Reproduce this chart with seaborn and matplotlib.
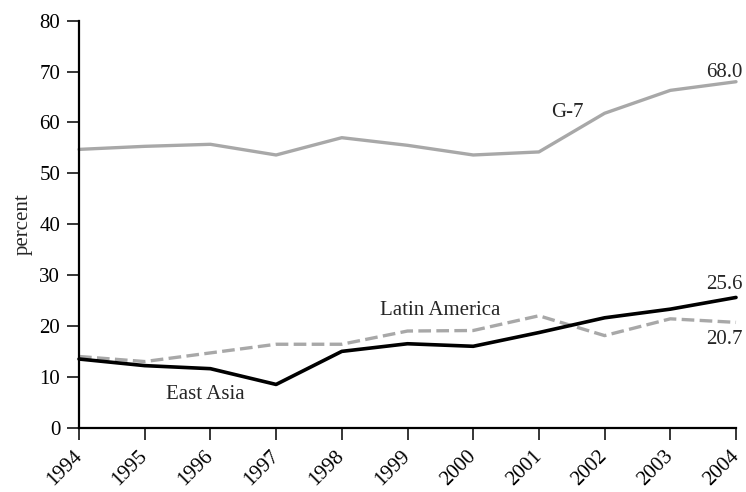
import matplotlib
matplotlib.use('Agg')
import matplotlib.pyplot as plt
import matplotlib.transforms as mtransforms
import seaborn as sns
import pandas as pd

# values (percent)
years = [1994, 1995, 1996, 1997, 1998, 1999, 2000, 2001, 2002, 2003, 2004]
g7 = [54.7, 55.3, 55.7, 53.6, 57.0, 55.5, 53.6, 54.2, 61.8, 66.3, 68.0]
east_asia = [13.5, 12.2, 11.6, 8.5, 15.0, 16.5, 16.0, 18.7, 21.6, 23.3, 25.6]
latin_america = [14.0, 13.0, 14.7, 16.4, 16.4, 19.0, 19.1, 22.0, 18.1, 21.4, 20.7]
y_ticks = [0, 10, 20, 30, 40, 50, 60, 70, 80]

sns.set_style('ticks')
plt.rcParams['font.family'] = ['Liberation Serif', 'DejaVu Serif']
plt.rcParams['font.size'] = 15

df = pd.DataFrame({
    'year': years * 3,
    'value': g7 + east_asia + latin_america,
    'group': ['G-7'] * len(years) + ['East Asia'] * len(years)
             + ['Latin America'] * len(years),
})

fig = plt.figure(figsize=(7.46, 4.92), dpi=100)
ax = fig.add_axes([0.1059, 0.1307, 0.8807, 0.8273])

sns.lineplot(data=df[df.group == 'G-7'], x='year', y='value', ax=ax,
             color='#a8a8a8', linewidth=2.4, legend=False)
sns.lineplot(data=df[df.group == 'Latin America'], x='year', y='value', ax=ax,
             color='#a8a8a8', linewidth=2.4, legend=False)
ax.lines[-1].set_dashes([3.8, 1.6])
sns.lineplot(data=df[df.group == 'East Asia'], x='year', y='value', ax=ax,
             color='black', linewidth=2.6, legend=False)

ax.set_xlim(years[0], years[-1])
ax.set_ylim(0, 80)
ax.set_yticks(y_ticks)
ax.set_xticks(years)
ax.set_xticklabels([str(y) for y in years], rotation=45, ha='right',
                   va='center', rotation_mode='anchor')
shift = mtransforms.ScaledTranslation(4 / 100, 0, fig.dpi_scale_trans)
for lbl in ax.get_xticklabels():
    lbl.set_transform(lbl.get_transform() + shift)
ax.set_xlabel('')
ax.set_ylabel('percent')
ax.yaxis.set_label_coords(-0.07, 0.5)
ax.tick_params(axis='both', direction='out', length=8.5, width=1.1,
               colors='black', labelsize=15)
ax.tick_params(axis='y', pad=5)
ax.tick_params(axis='x', pad=10)
for side in ['top', 'right']:
    ax.spines[side].set_visible(False)
for side in ['left', 'bottom']:
    ax.spines[side].set_linewidth(1.6)
    ax.spines[side].set_color('black')

# series labels
ax.text(2001.43, 62.0, 'G-7', ha='center', va='center')
ax.text(1999.5, 23.0, 'Latin America', ha='center', va='center')
ax.text(1995.92, 6.5, 'East Asia', ha='center', va='center')
ax.text(2004.1, 69.8, f'{g7[-1]:.1f}', ha='right', va='center')
ax.text(2004.1, 28.1, f'{east_asia[-1]:.1f}', ha='right', va='center')
ax.text(2004.1, 17.4, f'{latin_america[-1]:.1f}', ha='right', va='center')

ax.patch.set_visible(False)
for ln in ax.lines:
    ln.set_clip_on(False)

fig.savefig('out.png', dpi=100)
